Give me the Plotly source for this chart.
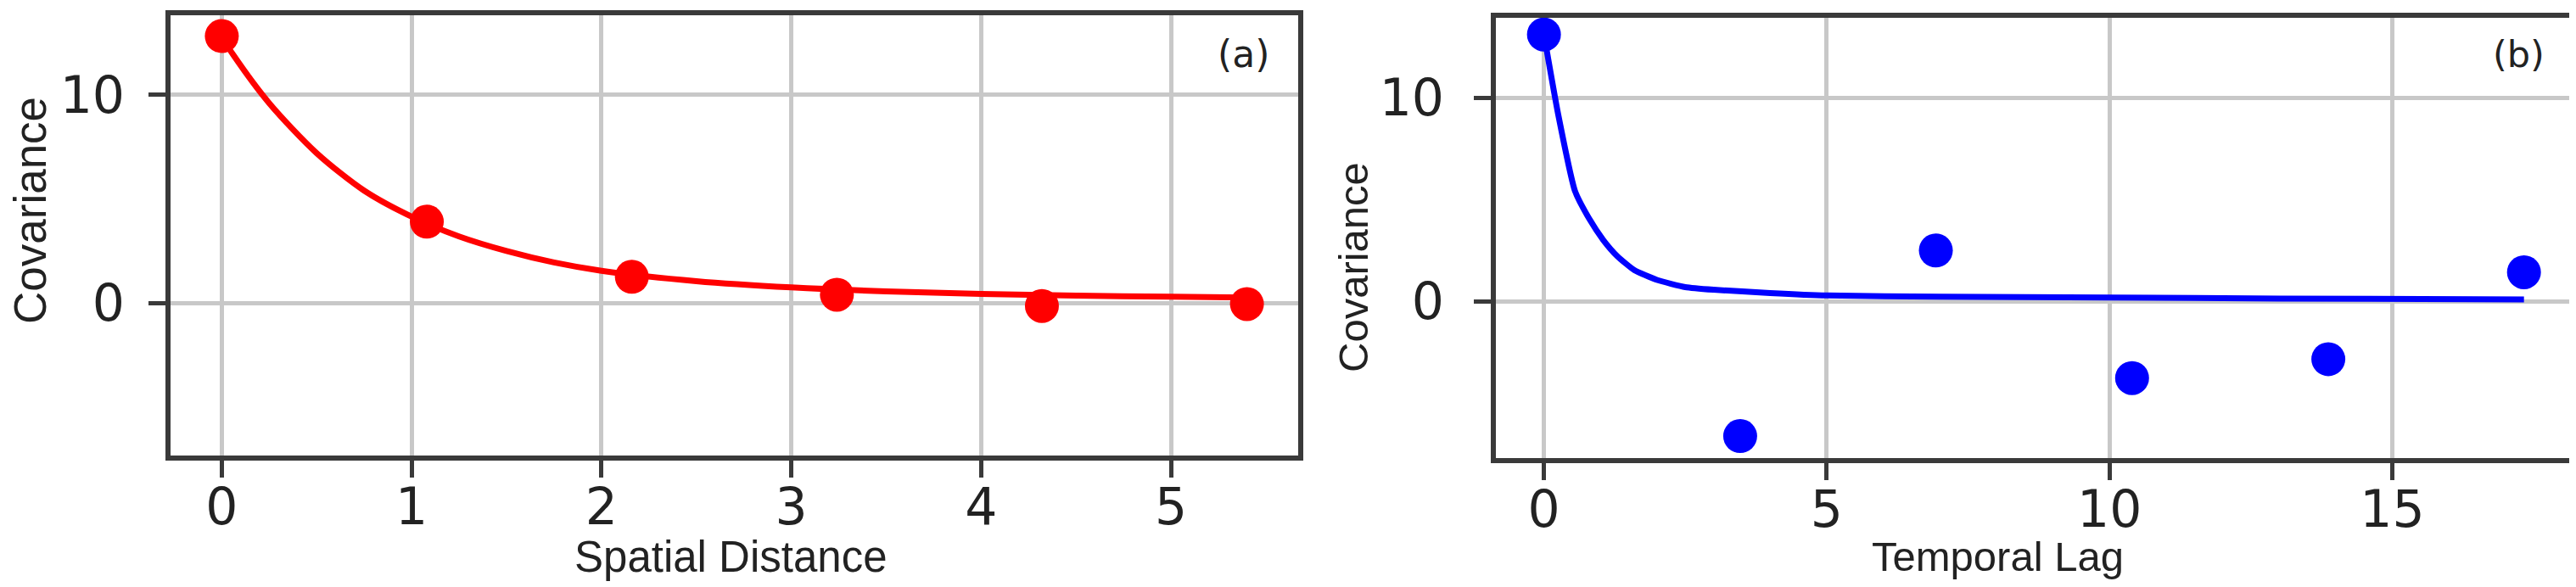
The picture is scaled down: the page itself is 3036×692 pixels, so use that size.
import plotly.graph_objects as go

# ---- data ----
spatial_lags = [0.0, 1.08, 2.16, 3.24, 4.32, 5.40]
spatial_cov = [12.83, 3.91, 1.26, 0.40, -0.14, -0.05]
spatial_fit_x = [0.0, 0.06, 0.25, 0.5, 0.75, 1.0, 1.25, 1.5, 1.75, 2.0, 2.5, 3.0, 3.5, 4.0, 4.5, 5.0, 5.4]
spatial_fit_y = [12.8, 11.93, 9.6, 7.2, 5.4, 4.15, 3.2, 2.5, 1.95, 1.55, 1.05, 0.75, 0.56, 0.44, 0.36, 0.3, 0.26]

temporal_lags = [0.0, 3.47, 6.93, 10.40, 13.87, 17.33]
temporal_cov = [13.1, -6.63, 2.49, -3.78, -2.85, 1.42]
temporal_fit_x = [0.0, 0.25, 0.55, 0.8, 1.05, 1.3, 1.6, 2.0, 2.5, 3.0, 4.0, 5.0, 7.0, 10.0, 13.0, 17.33]
temporal_fit_y = [13.1, 9.2, 5.4, 4.05, 3.0, 2.2, 1.52, 1.04, 0.69, 0.56, 0.40, 0.28, 0.22, 0.18, 0.13, 0.08]

x_ticks_a = [0, 1, 2, 3, 4, 5]
x_ticks_b = [0, 5, 10, 15]
y_ticks = [0, 10]

W, H = 3036, 692
TICK_FONT = dict(family="DejaVu Sans", size=60, color="#222222")
TITLE_FAMILY = "Liberation Sans, Arial, sans-serif"
GRID = "#c8c8c8"
FRAME = "#3a3a3a"

fig = go.Figure()

fig.add_trace(go.Scatter(x=spatial_fit_x, y=spatial_fit_y, mode="lines",
                         line=dict(color="#ff0000", width=7, shape="spline", smoothing=0.8),
                         xaxis="x", yaxis="y", showlegend=False))
fig.add_trace(go.Scatter(x=spatial_lags, y=spatial_cov, mode="markers",
                         marker=dict(color="#ff0000", size=40),
                         xaxis="x", yaxis="y", showlegend=False))
fig.add_trace(go.Scatter(x=temporal_fit_x, y=temporal_fit_y, mode="lines",
                         line=dict(color="#0000ff", width=7, shape="spline", smoothing=0.5),
                         xaxis="x2", yaxis="y2", showlegend=False))
fig.add_trace(go.Scatter(x=temporal_lags, y=temporal_cov, mode="markers",
                         marker=dict(color="#0000ff", size=40),
                         xaxis="x2", yaxis="y2", showlegend=False))

def px_x(p):
    return p / W

def px_y(p):
    return 1 - p / H

common_axis = dict(showgrid=True, gridcolor=GRID, gridwidth=5,
                   showline=True, linecolor=FRAME, linewidth=6, mirror=True,
                   ticks="outside", ticklen=20, tickwidth=5, tickcolor=FRAME,
                   tickfont=TICK_FONT, zeroline=False, layer="below traces")

fig.update_layout(
    width=W, height=H,
    margin=dict(l=0, r=0, t=0, b=0),
    paper_bgcolor="white", plot_bgcolor="white",
    xaxis=dict(domain=[px_x(193), px_x(1522)], range=[-0.27, 5.67],
               tickvals=x_ticks_a, anchor="y", ticklabelstandoff=-17, **common_axis),
    yaxis=dict(domain=[px_y(529), px_y(10)], range=[-7.33, 13.83], tickvals=y_ticks,
               anchor="x", ticklabelstandoff=16, **common_axis),
    xaxis2=dict(domain=[px_x(1755), px_x(3024)], range=[-0.85, 18.19],
                tickvals=x_ticks_b, anchor="y2", ticklabelstandoff=-17, **common_axis),
    yaxis2=dict(domain=[px_y(532), px_y(13)], range=[-7.71, 13.92], tickvals=y_ticks,
                anchor="x2", ticklabelstandoff=23, **common_axis),
)

def add_text(text, x, y, size, family, angle=0):
    fig.add_annotation(text=text, xref="paper", yref="paper",
                       x=px_x(x), y=px_y(y), xanchor="center", yanchor="middle",
                       showarrow=False, textangle=angle,
                       font=dict(family=family, size=size, color="#222222"))

add_text("Covariance", 27, 240, 53, TITLE_FAMILY, -90)
add_text("Covariance", 1587, 307, 49, TITLE_FAMILY, -90)
add_text("Spatial Distance", 853, 648, 51, TITLE_FAMILY)
add_text("Temporal Lag", 2346, 648, 49, TITLE_FAMILY)
add_text("(a)", 1457, 55, 44, "DejaVu Sans")
add_text("(b)", 2960, 56, 43, "DejaVu Sans")

fig.write_html("out.html")
